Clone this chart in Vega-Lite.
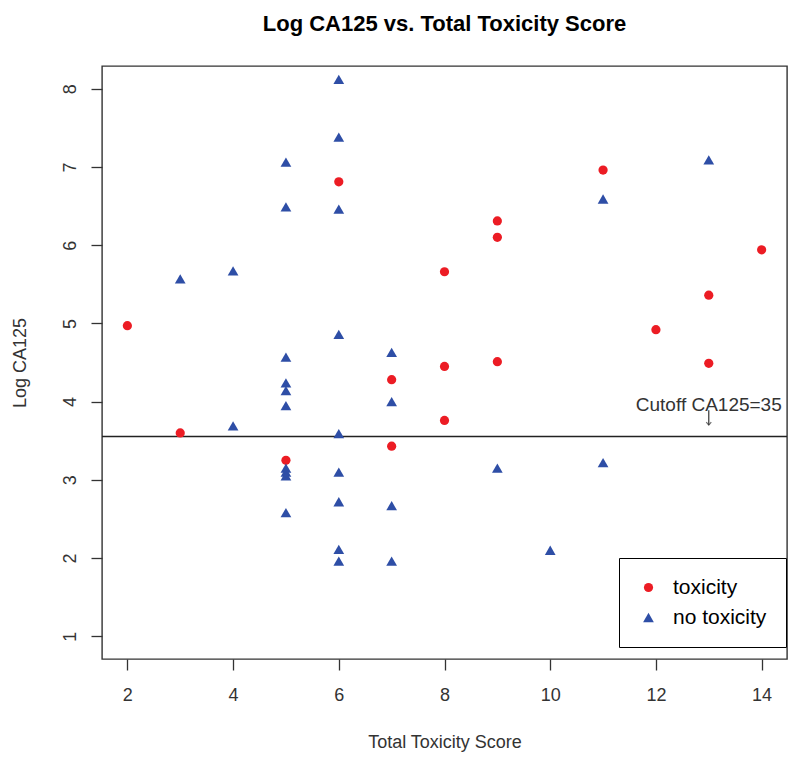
{
  "$schema": "https://vega.github.io/schema/vega-lite/v6.json",
  "autosize": "none",
  "width": 685,
  "height": 593,
  "padding": {"left": 102, "top": 66, "right": 13, "bottom": 104},
  "background": "white",
  "config": {
    "font": "Liberation Sans",
    "view": {"stroke": "#333333", "strokeWidth": 1.4},
    "axis": {"grid": false, "domain": false, "tickColor": "#333333", "tickWidth": 1.3, "tickSize": 11,
             "labelFont": "Liberation Sans", "labelFontSize": 18, "labelColor": "#333333",
             "titleFont": "Liberation Sans", "titleFontSize": 18, "titleFontWeight": "normal", "titleColor": "#333333"}
  },
  "title": {"text": "Log CA125 vs. Total Toxicity Score", "fontSize": 22, "fontWeight": "bold", "font": "Liberation Sans", "color": "black", "anchor": "middle", "offset": 30},
  "datasets": {
    "pts": [
      {"score": 2, "logca": 4.97, "group": "toxicity"},
      {"score": 3, "logca": 3.60, "group": "toxicity"},
      {"score": 5, "logca": 3.25, "group": "toxicity"},
      {"score": 6, "logca": 6.81, "group": "toxicity"},
      {"score": 7, "logca": 4.28, "group": "toxicity"},
      {"score": 7, "logca": 3.43, "group": "toxicity"},
      {"score": 8, "logca": 5.66, "group": "toxicity"},
      {"score": 8, "logca": 4.45, "group": "toxicity"},
      {"score": 8, "logca": 3.76, "group": "toxicity"},
      {"score": 9, "logca": 6.31, "group": "toxicity"},
      {"score": 9, "logca": 6.10, "group": "toxicity"},
      {"score": 9, "logca": 4.51, "group": "toxicity"},
      {"score": 11, "logca": 6.96, "group": "toxicity"},
      {"score": 12, "logca": 4.92, "group": "toxicity"},
      {"score": 13, "logca": 5.36, "group": "toxicity"},
      {"score": 13, "logca": 4.49, "group": "toxicity"},
      {"score": 14, "logca": 5.94, "group": "toxicity"},
      {"score": 3, "logca": 5.57, "group": "no toxicity"},
      {"score": 4, "logca": 5.67, "group": "no toxicity"},
      {"score": 4, "logca": 3.69, "group": "no toxicity"},
      {"score": 5, "logca": 7.06, "group": "no toxicity"},
      {"score": 5, "logca": 6.49, "group": "no toxicity"},
      {"score": 5, "logca": 4.57, "group": "no toxicity"},
      {"score": 5, "logca": 4.24, "group": "no toxicity"},
      {"score": 5, "logca": 4.14, "group": "no toxicity"},
      {"score": 5, "logca": 3.95, "group": "no toxicity"},
      {"score": 5, "logca": 3.15, "group": "no toxicity"},
      {"score": 5, "logca": 3.10, "group": "no toxicity"},
      {"score": 5, "logca": 3.05, "group": "no toxicity"},
      {"score": 5, "logca": 2.58, "group": "no toxicity"},
      {"score": 6, "logca": 8.12, "group": "no toxicity"},
      {"score": 6, "logca": 7.38, "group": "no toxicity"},
      {"score": 6, "logca": 6.46, "group": "no toxicity"},
      {"score": 6, "logca": 4.86, "group": "no toxicity"},
      {"score": 6, "logca": 3.59, "group": "no toxicity"},
      {"score": 6, "logca": 3.10, "group": "no toxicity"},
      {"score": 6, "logca": 2.72, "group": "no toxicity"},
      {"score": 6, "logca": 2.11, "group": "no toxicity"},
      {"score": 6, "logca": 1.96, "group": "no toxicity"},
      {"score": 7, "logca": 4.63, "group": "no toxicity"},
      {"score": 7, "logca": 4.00, "group": "no toxicity"},
      {"score": 7, "logca": 2.67, "group": "no toxicity"},
      {"score": 7, "logca": 1.96, "group": "no toxicity"},
      {"score": 9, "logca": 3.15, "group": "no toxicity"},
      {"score": 10, "logca": 2.10, "group": "no toxicity"},
      {"score": 11, "logca": 6.59, "group": "no toxicity"},
      {"score": 11, "logca": 3.22, "group": "no toxicity"},
      {"score": 13, "logca": 7.09, "group": "no toxicity"}
    ],
    "cutoff": [{"y": 3.555}],
    "note": [{"score": 13, "logca": 3.96, "label": "Cutoff CA125=35", "top": 3.89, "bottom": 3.70}]
  },
  "layer": [
    {
      "data": {"name": "cutoff"},
      "mark": {"type": "rule", "color": "#222222", "strokeWidth": 1.4},
      "encoding": {"y": {"field": "y", "type": "quantitative", "scale": {"domain": [0.71, 8.29], "nice": false, "zero": false}}}
    },
    {
      "data": {"name": "pts"},
      "mark": {"type": "point", "filled": true, "opacity": 1},
      "encoding": {
        "x": {"field": "score", "type": "quantitative", "scale": {"domain": [1.52, 14.48], "nice": false, "zero": false},
              "axis": {"title": "Total Toxicity Score", "values": [2, 4, 6, 8, 10, 12, 14], "format": "d", "labelPadding": 16, "titlePadding": 29}},
        "y": {"field": "logca", "type": "quantitative", "scale": {"domain": [0.71, 8.29], "nice": false, "zero": false},
              "axis": {"title": "Log CA125", "values": [1, 2, 3, 4, 5, 6, 7, 8], "format": "d", "labelAngle": 270, "labelAlign": "center", "labelBaseline": "alphabetic", "labelPadding": 16, "titlePadding": 32}},
        "color": {"field": "group", "type": "nominal", "scale": {"domain": ["toxicity", "no toxicity"], "range": ["#ec1c24", "#2e4ea6"]},
                  "legend": {"title": null, "orient": "none", "legendX": 517, "legendY": 492, "strokeColor": "black", "fillColor": "white",
                             "padding": 19, "rowPadding": 8, "labelFontSize": 21, "labelColor": "black", "labelFont": "Liberation Sans", "labelOffset": 14, "symbolSize": 110}},
        "shape": {"field": "group", "type": "nominal", "scale": {"domain": ["toxicity", "no toxicity"], "range": ["circle", "triangle-up"]}},
        "size": {"field": "group", "type": "nominal", "scale": {"domain": ["toxicity", "no toxicity"], "range": [85, 115]}, "legend": null}
      }
    },
    {
      "data": {"name": "note"},
      "mark": {"type": "text", "fontSize": 19, "color": "#333333", "font": "Liberation Sans", "baseline": "middle", "align": "center"},
      "encoding": {
        "x": {"field": "score", "type": "quantitative"},
        "y": {"field": "logca", "type": "quantitative"},
        "text": {"field": "label"}
      }
    },
    {
      "data": {"name": "note"},
      "mark": {"type": "rule", "color": "#333333", "strokeWidth": 1.2},
      "encoding": {
        "x": {"field": "score", "type": "quantitative"},
        "y": {"field": "top", "type": "quantitative"},
        "y2": {"field": "bottom"}
      }
    },
    {
      "data": {"name": "note"},
      "mark": {"type": "point", "shape": "M-1,-1.2L0,0L1,-1.2", "filled": false, "size": 25, "stroke": "#333333", "strokeWidth": 1.2},
      "encoding": {
        "x": {"field": "score", "type": "quantitative"},
        "y": {"field": "bottom", "type": "quantitative"}
      }
    }
  ]
}
